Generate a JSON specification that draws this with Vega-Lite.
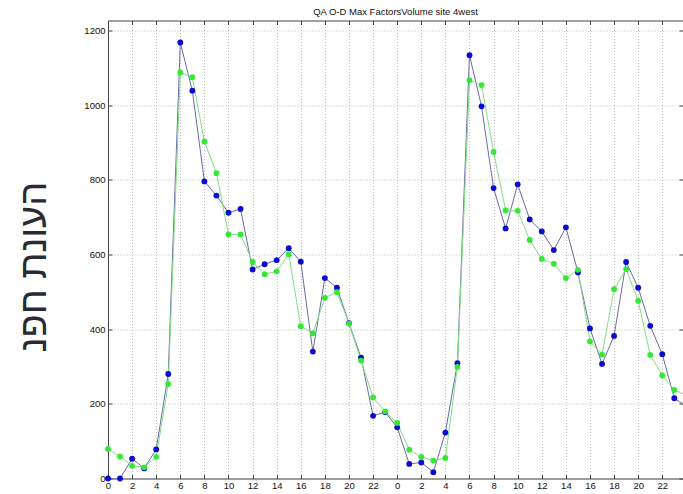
{
  "$schema": "https://vega.github.io/schema/vega-lite/v6.json",
  "width": 575,
  "height": 458,
  "autosize": {"type": "none"},
  "padding": {"left": 108, "top": 20.5, "right": 0, "bottom": 15.5},
  "background": "white",
  "title": {"text": "QA O-D Max FactorsVolume site 4west", "fontSize": 9.5, "font": "Liberation Sans", "fontWeight": "normal", "color": "#111", "offset": 4, "anchor": "middle"},
  "config": {
    "view": {"stroke": null},
    "axis": {"labelFont": "Liberation Sans", "labelFontSize": 9.5, "labelColor": "#111", "domainColor": "#444", "tickColor": "#444", "gridColor": "#bbbbbb", "gridDash": [1, 2], "gridWidth": 1}
  },
  "data": {"values": [
    {"t": 0, "s": "blue", "v": 0}, {"t": 1, "s": "blue", "v": 0}, {"t": 2, "s": "blue", "v": 53}, {"t": 3, "s": "blue", "v": 27}, {"t": 4, "s": "blue", "v": 78},
    {"t": 5, "s": "blue", "v": 280}, {"t": 6, "s": "blue", "v": 1168}, {"t": 7, "s": "blue", "v": 1039}, {"t": 8, "s": "blue", "v": 796}, {"t": 9, "s": "blue", "v": 758},
    {"t": 10, "s": "blue", "v": 712}, {"t": 11, "s": "blue", "v": 722}, {"t": 12, "s": "blue", "v": 560}, {"t": 13, "s": "blue", "v": 574}, {"t": 14, "s": "blue", "v": 585},
    {"t": 15, "s": "blue", "v": 617}, {"t": 16, "s": "blue", "v": 581}, {"t": 17, "s": "blue", "v": 340}, {"t": 18, "s": "blue", "v": 537}, {"t": 19, "s": "blue", "v": 511},
    {"t": 20, "s": "blue", "v": 416}, {"t": 21, "s": "blue", "v": 324}, {"t": 22, "s": "blue", "v": 168}, {"t": 23, "s": "blue", "v": 178}, {"t": 24, "s": "blue", "v": 137},
    {"t": 25, "s": "blue", "v": 39}, {"t": 26, "s": "blue", "v": 43}, {"t": 27, "s": "blue", "v": 17}, {"t": 28, "s": "blue", "v": 123}, {"t": 29, "s": "blue", "v": 309},
    {"t": 30, "s": "blue", "v": 1134}, {"t": 31, "s": "blue", "v": 997}, {"t": 32, "s": "blue", "v": 778}, {"t": 33, "s": "blue", "v": 670}, {"t": 34, "s": "blue", "v": 788},
    {"t": 35, "s": "blue", "v": 694}, {"t": 36, "s": "blue", "v": 662}, {"t": 37, "s": "blue", "v": 612}, {"t": 38, "s": "blue", "v": 673}, {"t": 39, "s": "blue", "v": 552},
    {"t": 40, "s": "blue", "v": 402}, {"t": 41, "s": "blue", "v": 307}, {"t": 42, "s": "blue", "v": 382}, {"t": 43, "s": "blue", "v": 580}, {"t": 44, "s": "blue", "v": 511},
    {"t": 45, "s": "blue", "v": 409}, {"t": 46, "s": "blue", "v": 333}, {"t": 47, "s": "blue", "v": 215}, {"t": 48, "s": "blue", "v": 193},
    {"t": 0, "s": "green", "v": 79}, {"t": 1, "s": "green", "v": 59}, {"t": 2, "s": "green", "v": 34}, {"t": 3, "s": "green", "v": 30}, {"t": 4, "s": "green", "v": 58},
    {"t": 5, "s": "green", "v": 253}, {"t": 6, "s": "green", "v": 1088}, {"t": 7, "s": "green", "v": 1075}, {"t": 8, "s": "green", "v": 903}, {"t": 9, "s": "green", "v": 818},
    {"t": 10, "s": "green", "v": 654}, {"t": 11, "s": "green", "v": 654}, {"t": 12, "s": "green", "v": 580}, {"t": 13, "s": "green", "v": 547}, {"t": 14, "s": "green", "v": 555},
    {"t": 15, "s": "green", "v": 601}, {"t": 16, "s": "green", "v": 408}, {"t": 17, "s": "green", "v": 389}, {"t": 18, "s": "green", "v": 484}, {"t": 19, "s": "green", "v": 499},
    {"t": 20, "s": "green", "v": 415}, {"t": 21, "s": "green", "v": 316}, {"t": 22, "s": "green", "v": 217}, {"t": 23, "s": "green", "v": 180}, {"t": 24, "s": "green", "v": 149},
    {"t": 25, "s": "green", "v": 77}, {"t": 26, "s": "green", "v": 58}, {"t": 27, "s": "green", "v": 48}, {"t": 28, "s": "green", "v": 55}, {"t": 29, "s": "green", "v": 299},
    {"t": 30, "s": "green", "v": 1067}, {"t": 31, "s": "green", "v": 1054}, {"t": 32, "s": "green", "v": 875}, {"t": 33, "s": "green", "v": 718}, {"t": 34, "s": "green", "v": 717},
    {"t": 35, "s": "green", "v": 639}, {"t": 36, "s": "green", "v": 588}, {"t": 37, "s": "green", "v": 575}, {"t": 38, "s": "green", "v": 537}, {"t": 39, "s": "green", "v": 559},
    {"t": 40, "s": "green", "v": 367}, {"t": 41, "s": "green", "v": 332}, {"t": 42, "s": "green", "v": 507}, {"t": 43, "s": "green", "v": 561}, {"t": 44, "s": "green", "v": 476},
    {"t": 45, "s": "green", "v": 331}, {"t": 46, "s": "green", "v": 276}, {"t": 47, "s": "green", "v": 237}, {"t": 48, "s": "green", "v": 223}
  ]},
  "layer": [
    {"mark": {"type": "line", "clip": true, "strokeWidth": 1},
     "encoding": {
       "x": {"field": "t", "type": "quantitative",
         "scale": {"domain": [0, 47.72], "nice": false, "zero": false},
         "axis": {"orient": "bottom", "title": null, "values": [0,2,4,6,8,10,12,14,16,18,20,22,24,26,28,30,32,34,36,38,40,42,44,46], "labelExpr": "datum.value % 24", "tickSize": -4, "labelPadding": 6, "grid": true, "labelFlush": false}},
       "y": {"field": "v", "type": "quantitative",
         "scale": {"domain": [0, 1227], "nice": false},
         "axis": {"orient": "left", "title": "\u202Dנפח תנועה\u202C", "titleFont": "Liberation Sans", "titleFontSize": 38, "titleFontWeight": "normal", "titleColor": "#2a2a33", "titleAngle": -90, "titleX": -63, "titleY": 246, "titleAlign": "center", "titleBaseline": "alphabetic", "values": [0,200,400,600,800,1000,1200], "format": "d", "tickSize": -4, "labelPadding": 7, "grid": true, "labelFlush": false}},
       "color": {"field": "s", "type": "nominal", "legend": null, "sort": ["blue", "green"], "scale": {"domain": ["blue", "green"], "range": ["#6a6aa8", "#7fe07f"]}}}},
    {"mark": {"type": "point", "filled": true, "opacity": 1, "size": 34, "clip": false},
     "transform": [{"filter": "datum.t <= 47"}],
     "encoding": {
       "x": {"field": "t", "type": "quantitative",
         "axis": {"orient": "top", "title": null, "values": [0,2,4,6,8,10,12,14,16,18,20,22,24,26,28,30,32,34,36,38,40,42,44,46], "labels": false, "tickSize": -4, "grid": false}},
       "y": {"field": "v", "type": "quantitative",
         "axis": {"orient": "right", "title": null, "values": [0,200,400,600,800,1000,1200], "labels": false, "tickSize": -4, "grid": false, "domain": false}},
       "color": {"field": "s", "type": "nominal", "legend": null, "sort": ["blue", "green"], "scale": {"domain": ["blue", "green"], "range": ["#0a0ad0", "#35e835"]}}}}
  ],
  "resolve": {"scale": {"color": "independent"}, "axis": {"x": "independent", "y": "independent"}}
}
